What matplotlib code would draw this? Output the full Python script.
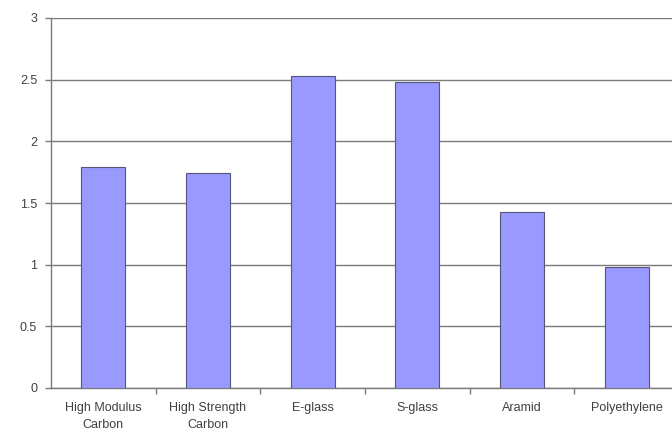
import matplotlib
matplotlib.use("Agg")
import matplotlib.pyplot as plt

categories = ["High Modulus\nCarbon", "High Strength\nCarbon", "E-glass", "S-glass", "Aramid", "Polyethylene"]
values = [1.79, 1.74, 2.53, 2.48, 1.43, 0.98]
yticks = [0, 0.5, 1, 1.5, 2, 2.5, 3]
ytick_labels = ["0", "0.5", "1", "1.5", "2", "2.5", "3"]

plt.rcParams['font.family'] = ['Liberation Sans', 'DejaVu Sans']

fig = plt.figure(figsize=(6.72, 4.32), dpi=100)
W, H = 672, 432
left, right, top, bottom = 51, 679, 18, 388
ax = fig.add_axes([left / W, 1 - bottom / H, (right - left) / W, (bottom - top) / H])

x = list(range(len(categories)))
ax.bar(x, values, width=0.42, color="#9999FF", edgecolor="#55557a", linewidth=0.8, zorder=3)

ax.set_xlim(-0.5, len(categories) - 0.5)
ax.set_ylim(0, 3)
ax.set_yticks(yticks)
ax.set_yticklabels(ytick_labels, fontsize=9, color="#404040")
ax.yaxis.grid(True, color="#7a7a7a", linewidth=1.0, zorder=0)
ax.set_axisbelow(True)

ax.set_xticks(x)
ax.set_xticklabels(categories, fontsize=9, color="#404040", linespacing=1.6)
ax.set_xticks([i + 0.5 for i in x[:-1]], minor=True)
ax.tick_params(axis='x', which='major', length=0, pad=10)
ax.tick_params(axis='x', which='minor', length=4, color="#7a7a7a", width=1.0)
ax.tick_params(axis='y', length=4, color="#7a7a7a", width=1.0, pad=6)

for s in ["top", "right"]:
    ax.spines[s].set_visible(False)
for s in ["left", "bottom"]:
    ax.spines[s].set_color("#7a7a7a")
    ax.spines[s].set_linewidth(1.0)

fig.savefig("out.png", dpi=100)
